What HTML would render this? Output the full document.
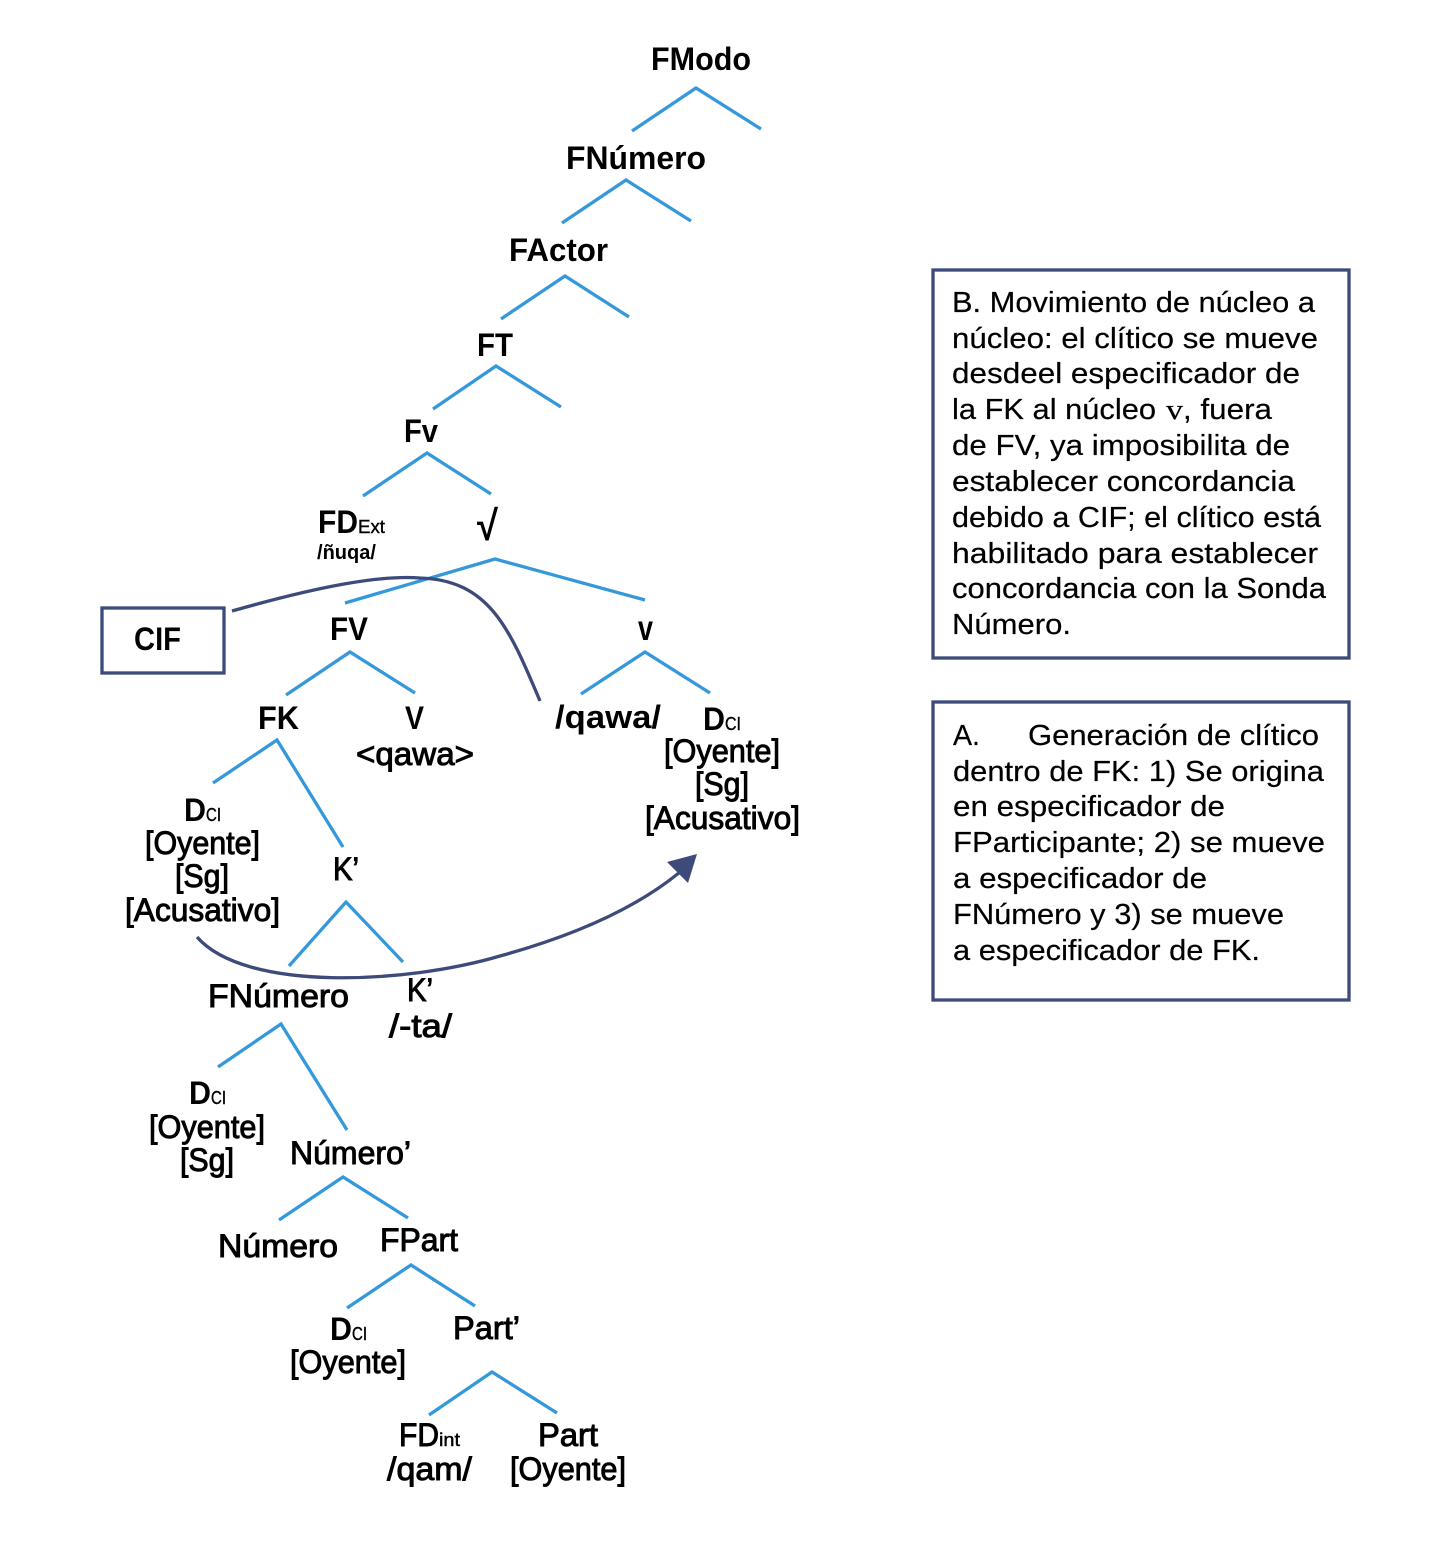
<!DOCTYPE html>
<html><head><meta charset="utf-8"><style>
html,body{margin:0;padding:0;background:#fff}
svg{display:block}
text{font-family:"Liberation Sans",sans-serif;fill:#000}
.b{font-size:32px;font-weight:bold}
.m{font-size:32px;stroke:#000;stroke-width:.95px}
.s{font-size:18px;stroke:#000;stroke-width:.4px}
.t{font-size:29px;stroke:#000;stroke-width:.2px}
.l polyline{fill:none;stroke:#3498db;stroke-width:3.3}
</style></head><body>
<svg width="1437" height="1545" viewBox="0 0 1437 1545" xmlns="http://www.w3.org/2000/svg">
<rect width="1437" height="1545" fill="#fff"/>
<g class="l">
<polyline points="632,131 696,88 761,129"/>
<polyline points="562,223 626,180 691,221"/>
<polyline points="501,319 565,276 629,317"/>
<polyline points="433,409 496,366 561,407"/>
<polyline points="363,496 427,453 491,494"/>
<polyline points="345,603 495,559 645,600"/>
<polyline points="286,695 350,652 415,693"/>
<polyline points="581,694 645,652 710,693"/>
<polyline points="213,783 277,740 343,847"/>
<polyline points="289,966 346,902 403,962"/>
<polyline points="218,1067 281,1024 347,1130"/>
<polyline points="279,1220 343,1177 408,1218"/>
<polyline points="347,1308 411,1265 475,1306"/>
<polyline points="429,1415 492,1372 557,1413"/>
</g>
<g fill="none" stroke="#3c4b7a" stroke-width="3.3">
<rect x="933" y="270" width="416" height="388"/>
<rect x="933" y="702" width="416" height="298"/>
<rect x="102" y="608" width="122" height="65"/>
<path d="M232,611 C320,586 380,575 420,578 C490,580 510,630 540,701"/>
<path d="M197,937 C245,992 405,984 500,956 C580,934 640,905 680,872"/>
</g>
<polygon points="697,854 667,862 688,883" fill="#3c4b7a"/>

<g>
<text class="b" x="651" y="70" textLength="100" lengthAdjust="spacingAndGlyphs">FModo</text>
<text class="b" x="566" y="169" textLength="140" lengthAdjust="spacingAndGlyphs">FNúmero</text>
<text class="b" x="509" y="261" textLength="99" lengthAdjust="spacingAndGlyphs">FActor</text>
<text class="b" x="477" y="356" textLength="36" lengthAdjust="spacingAndGlyphs">FT</text>
<text class="b" x="404" y="442" textLength="34" lengthAdjust="spacingAndGlyphs">Fv</text>
<text class="b" x="318" y="533" textLength="40" lengthAdjust="spacingAndGlyphs">FD</text>
<text class="s" x="358" y="533" textLength="27" lengthAdjust="spacingAndGlyphs">Ext</text>
<text x="317" y="559" font-size="20" font-weight="bold" textLength="59" lengthAdjust="spacingAndGlyphs">/ñuqa/</text>
<text x="477" y="540" font-size="42" font-weight="bold" textLength="21" lengthAdjust="spacingAndGlyphs">√</text>
<text class="b" x="134" y="650" textLength="47" lengthAdjust="spacingAndGlyphs">CIF</text>
<text class="b" x="330" y="640" textLength="38" lengthAdjust="spacingAndGlyphs">FV</text>
<text x="638" y="640" font-size="35" font-weight="bold" textLength="15" lengthAdjust="spacingAndGlyphs">v</text>
<text class="b" x="258" y="729" textLength="41" lengthAdjust="spacingAndGlyphs">FK</text>
<text class="b" x="405" y="729" textLength="19" lengthAdjust="spacingAndGlyphs">V</text>
<text class="m" x="356" y="765" textLength="118" lengthAdjust="spacingAndGlyphs">&lt;qawa&gt;</text>
<text class="b" x="555" y="728" textLength="106" lengthAdjust="spacingAndGlyphs">/qawa/</text>

<text class="b" x="703" y="730" textLength="22" lengthAdjust="spacingAndGlyphs">D</text>
<text class="s" x="725" y="730" textLength="16" lengthAdjust="spacingAndGlyphs">CI</text>
<text class="m" x="664" y="762" textLength="116" lengthAdjust="spacingAndGlyphs">[Oyente]</text>
<text class="m" x="695" y="795" textLength="54" lengthAdjust="spacingAndGlyphs">[Sg]</text>
<text class="m" x="645" y="829" textLength="155" lengthAdjust="spacingAndGlyphs">[Acusativo]</text>

<text class="b" x="184" y="821" textLength="22" lengthAdjust="spacingAndGlyphs">D</text>
<text class="s" x="206" y="821" textLength="15" lengthAdjust="spacingAndGlyphs">CI</text>
<text class="m" x="145" y="854" textLength="115" lengthAdjust="spacingAndGlyphs">[Oyente]</text>
<text class="m" x="175" y="887" textLength="54" lengthAdjust="spacingAndGlyphs">[Sg]</text>
<text class="m" x="125" y="921" textLength="155" lengthAdjust="spacingAndGlyphs">[Acusativo]</text>

<text class="m" x="333" y="880" textLength="26" lengthAdjust="spacingAndGlyphs">K’</text>
<text class="m" x="208" y="1007" textLength="141" lengthAdjust="spacingAndGlyphs">FNúmero</text>
<text class="m" x="407" y="1001" textLength="26" lengthAdjust="spacingAndGlyphs">K’</text>
<text class="m" x="389" y="1037" textLength="63" lengthAdjust="spacingAndGlyphs">/-ta/</text>

<text class="b" x="189" y="1104" textLength="22" lengthAdjust="spacingAndGlyphs">D</text>
<text class="s" x="211" y="1104" textLength="15" lengthAdjust="spacingAndGlyphs">CI</text>
<text class="m" x="149" y="1138" textLength="116" lengthAdjust="spacingAndGlyphs">[Oyente]</text>
<text class="m" x="180" y="1171" textLength="54" lengthAdjust="spacingAndGlyphs">[Sg]</text>
<text class="m" x="290" y="1164" textLength="121" lengthAdjust="spacingAndGlyphs">Número’</text>
<text class="m" x="218" y="1257" textLength="120" lengthAdjust="spacingAndGlyphs">Número</text>
<text class="m" x="380" y="1251" textLength="78" lengthAdjust="spacingAndGlyphs">FPart</text>

<text class="b" x="330" y="1340" textLength="22" lengthAdjust="spacingAndGlyphs">D</text>
<text class="s" x="352" y="1340" textLength="15" lengthAdjust="spacingAndGlyphs">CI</text>
<text class="m" x="290" y="1373" textLength="116" lengthAdjust="spacingAndGlyphs">[Oyente]</text>
<text class="m" x="453" y="1339" textLength="67" lengthAdjust="spacingAndGlyphs">Part’</text>
<text class="m" x="399" y="1446" textLength="40" lengthAdjust="spacingAndGlyphs">FD</text>
<text class="s" x="439" y="1446" textLength="21" lengthAdjust="spacingAndGlyphs">int</text>
<text class="m" x="387" y="1480" textLength="85" lengthAdjust="spacingAndGlyphs">/qam/</text>
<text class="m" x="538" y="1446" textLength="60" lengthAdjust="spacingAndGlyphs">Part</text>
<text class="m" x="510" y="1480" textLength="116" lengthAdjust="spacingAndGlyphs">[Oyente]</text>

<text class="t" x="952" y="312" textLength="363" lengthAdjust="spacingAndGlyphs">B. Movimiento de núcleo a</text>
<text class="t" x="952" y="348" textLength="366" lengthAdjust="spacingAndGlyphs">núcleo: el clítico se mueve</text>
<text class="t" x="952" y="383" textLength="348" lengthAdjust="spacingAndGlyphs">desdeel especificador de</text>
<text class="t" x="952" y="419" textLength="204" lengthAdjust="spacingAndGlyphs">la FK al núcleo</text>
<text class="t" x="1166" y="419" style="font-family:'Liberation Serif',serif" textLength="17" lengthAdjust="spacingAndGlyphs">v</text>
<text class="t" x="1183" y="419" textLength="89" lengthAdjust="spacingAndGlyphs">, fuera</text>
<text class="t" x="952" y="455" textLength="338" lengthAdjust="spacingAndGlyphs">de FV, ya imposibilita de</text>
<text class="t" x="952" y="491" textLength="343" lengthAdjust="spacingAndGlyphs">establecer concordancia</text>
<text class="t" x="952" y="527" textLength="369" lengthAdjust="spacingAndGlyphs">debido a CIF; el clítico está</text>
<text class="t" x="952" y="563" textLength="366" lengthAdjust="spacingAndGlyphs">habilitado para establecer</text>
<text class="t" x="952" y="598" textLength="374" lengthAdjust="spacingAndGlyphs">concordancia con la Sonda</text>
<text class="t" x="952" y="634" textLength="119" lengthAdjust="spacingAndGlyphs">Número.</text>

<text class="t" x="953" y="745" textLength="27" lengthAdjust="spacingAndGlyphs">A.</text>
<text class="t" x="1028" y="745" textLength="291" lengthAdjust="spacingAndGlyphs">Generación de clítico</text>
<text class="t" x="953" y="781" textLength="371" lengthAdjust="spacingAndGlyphs">dentro de FK: 1) Se origina</text>
<text class="t" x="953" y="816" textLength="272" lengthAdjust="spacingAndGlyphs">en especificador de</text>
<text class="t" x="953" y="852" textLength="372" lengthAdjust="spacingAndGlyphs">FParticipante; 2) se mueve</text>
<text class="t" x="953" y="888" textLength="254" lengthAdjust="spacingAndGlyphs">a especificador de</text>
<text class="t" x="953" y="924" textLength="331" lengthAdjust="spacingAndGlyphs">FNúmero y 3) se mueve</text>
<text class="t" x="953" y="960" textLength="307" lengthAdjust="spacingAndGlyphs">a especificador de FK.</text>
</g>
</svg>
</body></html>
